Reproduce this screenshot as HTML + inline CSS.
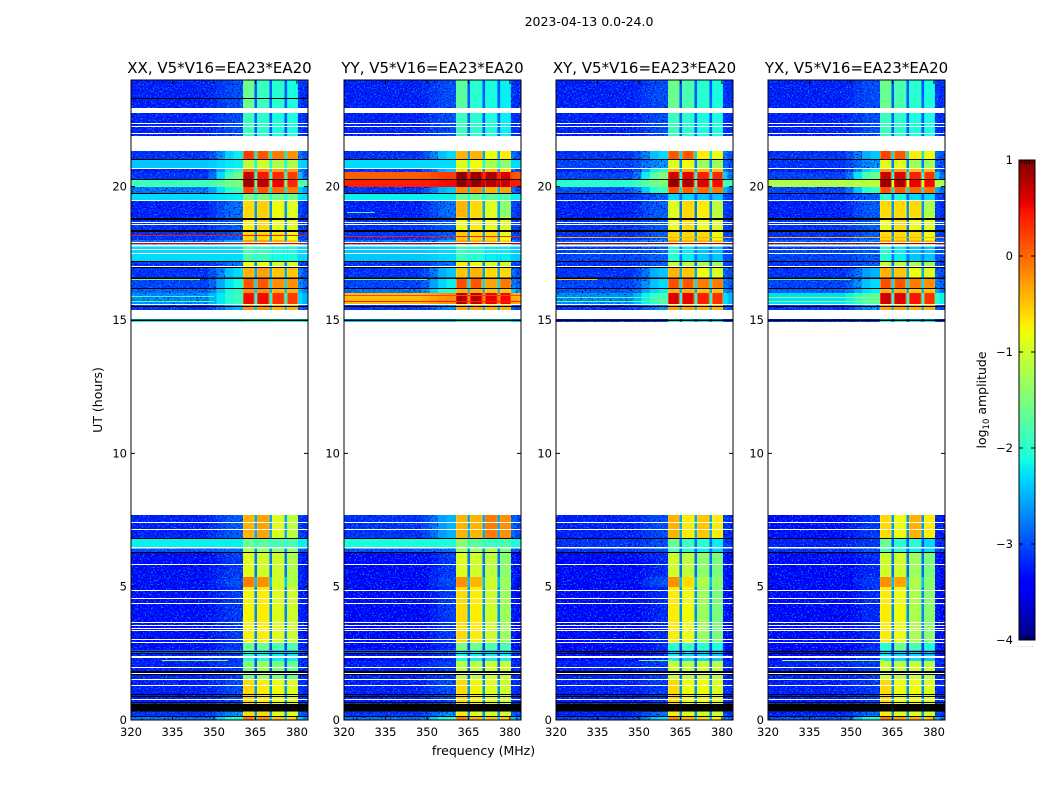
<!DOCTYPE html>
<html>
<head>
<meta charset="utf-8">
<title>2023-04-13 spectrograms</title>
<style>
html,body{margin:0;padding:0;background:#fff;width:1050px;height:800px;overflow:hidden}
svg{display:block}
text{font-family:"DejaVu Sans","Liberation Sans",sans-serif;fill:#000}
.cell{shape-rendering:crispEdges}
</style>
</head>
<body>
<svg id="chart" xmlns="http://www.w3.org/2000/svg" width="1050" height="800" viewBox="0 0 1050 800">
  <defs>
    <filter id="speckle" x="0" y="0" width="1" height="1" color-interpolation-filters="sRGB">
      <feTurbulence type="fractalNoise" baseFrequency="0.62 0.7" numOctaves="1" seed="7" result="n"/>
      <feColorMatrix in="n" type="matrix" values="0 0 0 0 0  0 0 0 0 0.55  0 0 0 0 1  6 0 0 0 -3.3" result="c"/>
      <feColorMatrix in="n" type="matrix" values="0 0 0 0 0  0 0 0 0 0  0 0 0 0 0.7  0 6 0 0 -3.3" result="d"/>
      <feComposite in="c" in2="SourceAlpha" operator="in" result="s"/>
      <feComposite in="d" in2="SourceAlpha" operator="in" result="t"/>
      <feMerge><feMergeNode in="SourceGraphic"/><feMergeNode in="t"/><feMergeNode in="s"/></feMerge>
    </filter>
    <linearGradient id="jet-gradient" x1="0" y1="1" x2="0" y2="0"></linearGradient>
  </defs>
  <text x="589" y="26" text-anchor="middle" font-size="12.5">2023-04-13 0.0-24.0</text>
  <text transform="translate(102,400) rotate(-90)" text-anchor="middle" font-size="12.5">UT (hours)</text>
  <text x="483.5" y="755" text-anchor="middle" font-size="12.5">frequency (MHz)</text>
  <text transform="translate(986,400) rotate(-90)" text-anchor="middle" font-size="12.5">log<tspan font-size="8.5" dy="3">10</tspan><tspan dy="-3"> amplitude</tspan></text>
  <g id="panels"></g>
  <g id="colorbar"></g>
</svg>
<script>
// Scale ranges
const freqTicks = [320, 335, 350, 365, 380];
const utTicks = [0, 5, 10, 15, 20];
const colorTicks = [1, 0, -1, -2, -3, -4];
const panelTitles = ['XX, V5*V16=EA23*EA20', 'YY, V5*V16=EA23*EA20', 'XY, V5*V16=EA23*EA20', 'YX, V5*V16=EA23*EA20'];
const subbands = [[360.5, 364.7], [365.6, 370], [370.9, 375.5], [376.4, 380.4]];
const rampFreqs = [348, 351, 354, 357, 360.5];
const rampShape = [0, 0.2, 0.55, 0.85, 1];

// Time segments [top UT, bottom UT] — everything outside stays flagged (white)
const utSegments = [
[24.00,22.76],[22.76,21.34],[21.34,21.04],[21.04,20.70],[20.70,20.55],[20.55,20.25],[20.25,19.99],[19.99,19.76],[19.76,19.50],
[19.50,18.84],[18.84,18.34],[18.34,18.00],[18.00,17.75],[17.75,17.21],[17.21,16.95],[16.95,16.58],[16.58,16.20],[16.20,16.01],
[16.01,15.56],[15.56,15.38],[15.03,14.93],
[7.69,6.79],[6.79,6.48],[6.48,6.30],[6.30,5.36],[5.36,4.99],[4.99,2.89],[2.89,2.63],[2.63,2.48],[2.48,2.21],[2.21,1.50],[1.50,0.56],
[0.56,0.30],[0.30,0.15],[0.15,0.00]];

// log10 amplitude per segment: [band floor, ramp top, sub-band 1..4]
const levelsXX = [
[-3.1,-3.0,-1.6,-1.9,-2.0,-2.1],[-3.1,-3.0,-1.9,-2.0,-2.1,-2.1],[-3.0,-2.2,0.25,0.1,-0.1,-0.2],[-2.4,-2.2,-1.1,-1.0,-1.2,-1.2],
[-3.1,-2.0,-0.1,-0.2,-0.3,-0.3],[-3.0,-1.6,0.65,0.45,0.35,0.25],[-1.9,-1.5,0.85,0.75,0.55,0.35],[-2.6,-1.9,0.2,0.1,0.0,-0.1],
[-2.3,-2.2,-1.5,-1.5,-1.6,-1.6],[-3.1,-2.8,-0.6,-0.55,-0.8,-0.9],[-3.0,-2.9,-0.7,-0.6,-0.8,-0.9],[-3.0,-2.9,-0.6,-0.6,-0.7,-0.8],
[-2.6,-2.5,-0.3,-0.3,-0.4,-0.5],[-2.3,-2.3,-1.8,-1.9,-2.1,-2.1],[-3.0,-2.8,-0.8,-0.8,-1.0,-1.0],[-3.0,-2.3,-0.4,-0.3,-0.5,-0.5],
[-2.9,-2.1,0.1,0.1,-0.2,-0.2],[-2.7,-2.0,-0.2,-0.2,-0.4,-0.4],[-2.5,-1.9,0.5,0.5,0.3,0.25],[-3.0,-2.5,-0.2,-0.2,-0.4,-0.4],
[-2.2,-2.2,-1.9,-1.9,-2.0,-2.0],
[-3.1,-2.9,-0.4,-0.3,-0.9,-1.1],[-2.2,-2.2,-1.6,-1.7,-1.8,-1.8],[-2.8,-2.8,-1.2,-1.3,-1.4,-1.4],[-3.2,-3.1,-0.9,-1.0,-1.0,-1.2],
[-3.2,-3.0,-0.1,-0.2,-1.0,-1.2],[-3.2,-3.1,-0.75,-0.7,-0.9,-1.0],[-3.2,-3.1,-1.6,-1.6,-1.8,-1.8],[-2.7,-2.7,-2.1,-2.2,-2.3,-2.3],
[-3.1,-3.1,-2.0,-2.1,-2.2,-2.2],[-3.1,-3.1,-1.5,-1.3,-1.5,-1.6],[-3.1,-3.0,-0.6,-0.7,-0.8,-0.9],[-3.0,-3.0,-1.0,-1.0,-1.0,-1.0],
[-3.0,-2.6,-0.6,-0.6,-0.9,-0.9],[-2.6,-2.0,-0.1,-0.2,-0.5,-0.6]];
const levelsYY = [
[-3.1,-3.0,-1.7,-2.0,-2.1,-2.2],[-3.1,-3.0,-1.9,-2.0,-2.1,-2.2],[-3.0,-2.3,-0.4,-0.4,-0.8,-0.7],[-2.3,-2.3,-0.9,-0.8,-1.2,-1.4],
[-3.0,-2.4,-0.6,-0.5,-0.5,-0.6],[0.05,0.25,0.95,0.9,0.8,0.65],[0.4,0.5,0.95,0.95,0.8,0.7],[-3.0,-2.4,-0.2,-0.2,-0.4,-0.3],
[-2.2,-2.2,-1.6,-1.6,-1.7,-1.8],[-3.1,-2.8,-0.4,-0.6,-0.9,-1.4],[-3.0,-2.9,-0.8,-0.7,-0.8,-0.9],[-3.0,-2.9,-0.5,-0.6,-0.6,-0.8],
[-2.6,-2.5,-0.3,-0.4,-0.5,-0.6],[-2.4,-2.3,-1.9,-2.0,-2.2,-2.2],[-3.0,-2.8,-0.7,-0.8,-0.9,-0.9],[-3.0,-2.4,-0.5,-0.4,-0.6,-0.6],
[-2.9,-2.2,0.15,0.1,-0.3,-0.1],[-2.6,-2.0,-0.4,-0.4,-0.5,-0.5],[-0.45,-0.2,0.8,0.75,0.55,0.5],[-3.0,-2.6,-0.3,-0.3,-0.4,-0.4],
[-2.4,-2.4,-2.0,-2.0,-2.0,-2.0],
[-3.0,-2.5,-0.4,-0.4,-0.1,-0.2],[-2.1,-2.1,-1.4,-1.7,-1.9,-1.8],[-2.8,-2.8,-1.3,-1.3,-1.2,-1.5],[-3.3,-3.1,-0.9,-1.0,-1.1,-1.4],
[-3.3,-3.0,-0.2,-0.4,-1.0,-1.3],[-3.3,-3.1,-0.6,-0.7,-1.0,-1.3],[-3.3,-3.2,-1.5,-1.6,-1.8,-1.8],[-2.7,-2.7,-2.2,-2.2,-2.3,-2.3],
[-3.2,-3.2,-2.1,-2.2,-2.2,-2.2],[-3.1,-3.1,-1.1,-1.1,-1.0,-1.0],[-3.1,-3.0,-0.6,-0.75,-0.9,-1.0],[-3.0,-3.0,-1.0,-1.0,-1.0,-1.0],
[-3.0,-2.6,-0.7,-0.9,-1.0,-1.0],[-2.6,-2.0,-0.1,-0.4,-0.5,-0.5]];
const levelsXY = [
[-3.1,-3.0,-1.6,-1.8,-2.0,-2.1],[-3.1,-3.0,-1.9,-2.0,-2.1,-2.1],[-3.0,-2.3,0.1,0.1,-0.7,-0.8],[-2.9,-2.6,-0.9,-0.8,-1.3,-1.3],
[-3.1,-2.0,-0.4,-0.4,-0.5,-0.5],[-2.9,-1.5,0.6,0.55,0.4,0.35],[-2.0,-1.5,0.9,0.8,0.6,0.5],[-2.8,-1.9,0.15,0.05,0.0,-0.05],
[-3.0,-2.9,-2.3,-2.3,-2.4,-2.4],[-3.1,-2.9,-0.9,-0.6,-0.7,-1.1],[-3.0,-2.9,-0.8,-0.6,-0.8,-0.9],[-3.0,-2.9,-0.6,-0.6,-0.6,-0.8],
[-2.7,-2.6,-0.3,-0.4,-0.4,-0.5],[-2.9,-2.9,-2.0,-2.2,-2.4,-2.4],[-3.0,-2.9,-1.0,-1.1,-1.2,-1.3],[-3.0,-2.4,-0.4,-0.5,-0.8,-0.9],
[-2.9,-2.3,0.15,0.1,-0.1,-0.1],[-2.8,-2.2,-0.4,-0.4,-0.5,-0.5],[-2.5,-1.8,0.6,0.55,0.4,0.3],[-3.0,-2.6,-0.3,-0.3,-0.4,-0.4],
[-3.0,-3.0,-2.0,-2.1,-2.2,-2.2],
[-3.1,-3.0,-0.4,-0.7,-0.5,-0.7],[-3.0,-3.0,-1.6,-1.9,-2.0,-2.2],[-3.0,-3.0,-1.8,-2.0,-2.2,-2.3],[-3.3,-3.2,-1.0,-1.1,-1.4,-1.5],
[-3.3,-3.0,-0.2,-0.6,-1.2,-1.4],[-3.3,-3.2,-0.7,-0.8,-1.3,-1.5],[-3.3,-3.2,-2.0,-1.9,-2.0,-2.1],[-3.2,-3.2,-2.3,-2.3,-2.4,-2.4],
[-3.2,-3.2,-2.2,-2.3,-2.3,-2.4],[-3.1,-3.1,-1.0,-1.1,-1.0,-1.1],[-3.1,-3.1,-0.6,-0.8,-0.8,-0.9],[-3.0,-3.0,-1.0,-1.0,-1.0,-1.0],
[-3.1,-2.8,-0.7,-0.9,-1.0,-1.0],[-2.9,-2.3,-0.2,-0.4,-0.6,-0.7]];
const levelsYX = [
[-3.1,-3.0,-1.6,-1.8,-2.0,-2.1],[-3.1,-3.0,-1.9,-2.0,-2.1,-2.1],[-3.0,-2.4,0.2,0.1,-0.7,-0.8],[-3.0,-2.6,-0.9,-0.9,-1.3,-1.3],
[-3.1,-2.2,-0.3,-0.3,-0.5,-0.5],[-2.9,-1.6,0.65,0.6,0.4,0.3],[-1.2,-1.1,0.9,0.8,0.55,0.5],[-2.9,-1.9,0.15,0.1,0.0,-0.05],
[-3.0,-2.9,-2.0,-2.1,-2.3,-2.3],[-3.1,-2.9,-0.6,-0.6,-0.6,-1.2],[-3.0,-2.9,-0.8,-0.6,-0.8,-0.9],[-3.0,-2.9,-0.6,-0.6,-0.6,-0.8],
[-2.7,-2.6,-0.3,-0.4,-0.4,-0.5],[-2.9,-2.9,-2.0,-2.2,-2.4,-2.4],[-3.0,-2.9,-1.0,-1.1,-1.2,-1.3],[-3.0,-2.5,-0.4,-0.5,-0.8,-0.9],
[-2.9,-2.3,0.15,0.1,-0.1,-0.2],[-2.7,-2.2,-0.4,-0.4,-0.5,-0.5],[-2.3,-1.7,0.65,0.6,0.45,0.3],[-3.0,-2.6,-0.3,-0.3,-0.4,-0.4],
[-3.0,-3.0,-2.0,-2.1,-2.2,-2.2],
[-3.2,-3.1,-0.6,-0.8,-0.4,-0.7],[-3.1,-3.1,-1.6,-2.0,-2.0,-2.3],[-3.0,-3.0,-1.8,-2.0,-2.2,-2.3],[-3.3,-3.2,-1.0,-1.0,-1.3,-1.5],
[-3.3,-3.1,-0.2,-0.3,-1.2,-1.4],[-3.3,-3.2,-0.7,-0.8,-1.2,-1.4],[-3.3,-3.2,-2.0,-1.6,-1.8,-2.1],[-3.2,-3.2,-2.3,-2.3,-2.4,-2.4],
[-3.2,-3.2,-2.2,-2.3,-2.3,-2.4],[-3.1,-3.1,-1.0,-1.1,-1.0,-1.1],[-3.1,-3.1,-0.6,-0.8,-0.8,-0.9],[-3.0,-3.0,-1.0,-1.0,-1.0,-1.0],
[-3.1,-2.8,-0.7,-0.9,-0.9,-1.0],[-2.8,-2.0,-0.1,-0.3,-0.4,-0.5]];
const panelLevels = [levelsXX, levelsYY, levelsXY, levelsYX];

// Narrow single-integration features: [UT, log10 amplitude, start MHz, end MHz]
const linesXX = [[18.17,0.45,320,384],[17.90,-0.5,320,384],[17.87,0.6,320,384],[16.53,-1.5,320,345],[15.90,-1.9,320,350],[15.72,-1.8,320,350],[2.24,-1.4,331,355]];
const linesYY = [[18.15,0.4,320,384],[17.87,0.8,320,384],[15.95,0.2,320,384],[15.72,0.4,320,384],[16.53,-1.7,320,350],[19.05,-1.9,321,331]];
const linesXY = [[18.13,-0.4,320,384],[17.87,0.8,320,384],[16.52,-0.5,320,335],[15.85,-1.8,320,360],[15.70,-1.6,320,360],[2.24,-1.6,350,362]];
const linesYX = [[18.13,-0.4,320,384],[17.87,0.8,320,384],[16.52,-1.8,320,350],[15.85,-1.4,320,360],[15.70,-1.4,320,360],[2.24,-1.2,325,362]];
const panelLines = [linesXX, linesYY, linesXY, linesYX];

// Flagged integrations
const whiteBands = [[22.95,22.76],[21.90,21.34],[17.83,17.75],[6.48,6.43]];
const whiteLines = [22.38,22.28,22.00,20.70,19.50,18.69,18.60,17.93,17.65,17.50,17.01,15.61,7.41,7.15,5.86,4.86,4.56,4.38,3.66,3.56,3.46,3.36,3.03,2.93,2.41,2.35,1.98,1.76,1.54,1.30,0.78];
const blackLines = [21.02,20.27,19.75,18.80,18.35,17.23,16.97,16.57,16.21,15.54,15.00,6.81,6.29,2.60,2.52,1.85,1.80,1.71,0.98,0.90,0.69,0.61,0.15];
const blackBands = [[0.56,0.31],[18.83,18.77],[18.38,18.33],[16.59,16.54],[15.02,14.97]];
const panelBlackExtra = [[23.34],[],[],[]];

const floorBias = -0.15;
const speckleCeiling = -2.6;
const panelLefts = [131, 344, 556, 768];
const panelWidth = 177, panelTop = 80, panelBottom = 720;
const NS = 'http://www.w3.org/2000/svg';
const yUT = ut => panelBottom - ut * (panelBottom - panelTop) / 24;
const xF = (left, f) => left + (f - 320) * panelWidth / 64;
const cbY = v => 640 - (v + 4) * 480 / 5;

function seg(pts, t) {
  for (let i = 1; i < pts.length; i++) {
    if (t <= pts[i][0]) {
      const a = pts[i - 1], b = pts[i];
      return a[1] + (b[1] - a[1]) * (t - a[0]) / (b[0] - a[0] || 1);
    }
  }
  return pts[pts.length - 1][1];
}
const jetR = [[0,0],[.35,0],[.66,1],[.89,1],[1,.5]];
const jetG = [[0,0],[.125,0],[.375,1],[.64,1],[.91,0],[1,0]];
const jetB = [[0,.5],[.11,1],[.34,1],[.65,0],[1,0]];
function jet(v) {
  const t = Math.max(0, Math.min(1, (v + 4) / 5));
  const c = p => Math.round(255 * seg(p, t));
  return 'rgb(' + c(jetR) + ',' + c(jetG) + ',' + c(jetB) + ')';
}
function mk(tag, parent, attrs) {
  const el = document.createElementNS(NS, tag);
  for (const k in attrs) el.setAttribute(k, attrs[k]);
  parent.appendChild(el);
  return el;
}
function hband(parent, left, f0, f1, top, bottom, fill) {
  const el = mk('rect', parent, {
    x: xF(left, f0), y: yUT(top), width: xF(left, f1) - xF(left, f0),
    height: Math.max(yUT(bottom) - yUT(top), 0.5), fill: fill, class: 'cell'
  });
  return el;
}
function hline(parent, left, ut, px, fill) {
  const el = mk('rect', parent, { x: left, y: Math.round(yUT(ut)), width: panelWidth, height: px, fill: fill, class: 'cell' });
  return el;
}

const panelsRoot = document.getElementById('panels');
panelTitles.forEach((title, p) => {
  const left = panelLefts[p];
  const levels = panelLevels[p];
  const g = mk('g', panelsRoot, {});
  
  

  const heat = mk('g', g, { filter: 'url(#speckle)' });
  
  
  const hot = mk('g', g, {});
  
  

  utSegments.forEach((s, i) => {
    const L = levels[i];
    const base = L[0] <= -2.5 ? L[0] + floorBias : L[0];
    const ramp = L[1];
    let f0 = 320;
    rampFreqs.forEach((f1, k) => {
      const v = base + (ramp - base) * rampShape[k];
      const cell = hband(v <= speckleCeiling ? heat : hot, left, f0, f1, s[0], s[1], jet(v));
      
      
      f0 = f1;
    });
    subbands.forEach((b, k) => {
      const v = L[2 + k];
      const edge = v > 0 ? v - 0.35 : v - 0.1;
      const ew = 0.4;
      const stops = [[b[0], b[0] + ew, edge], [b[0] + ew, b[1] - ew, v], [b[1] - ew, b[1], edge]];
      stops.forEach(st => {
        const cell = hband(hot, left, st[0], st[1], s[0], s[1], jet(st[2]));
        
        
      });
      const next = k < 3 ? subbands[k + 1][0] : null;
      if (next !== null) {
        const gapV = Math.max(base + 0.3, -2.85 + 0.5 * (L[2] + 1));
        const gap = hband(hot, left, b[1], next, s[0], s[1], jet(Math.min(gapV, v)));
        
        
      }
    });
    const v1 = base + (ramp - base) * 0.45;
    const tail1 = hband(v1 <= speckleCeiling ? heat : hot, left, 380.4, 382, s[0], s[1], jet(v1));
    
    
    const v2 = base + (ramp - base) * 0.2;
    const tail2 = hband(v2 <= speckleCeiling ? heat : hot, left, 382, 384, s[0], s[1], jet(v2));
    
    
  });

  panelLines[p].forEach(l => {
    const el = mk('rect', g, {
      x: xF(left, l[2]), y: Math.round(yUT(l[0])), width: xF(left, l[3]) - xF(left, l[2]),
      height: 1, fill: jet(l[1]), class: 'cell'
    });
    
    
  });
  whiteBands.forEach(b => {
    const el = hband(g, left, 320, 384, b[0], b[1], '#fff');
    
    
  });
  whiteLines.forEach(ut => {
    const el = hline(g, left, ut, 1, '#fff');
    
    
  });
  blackBands.forEach(b => {
    const el = hband(g, left, 320, 384, b[0], b[1], '#000');
    
    
  });
  blackLines.concat(panelBlackExtra[p]).forEach(ut => {
    const el = hline(g, left, ut, 1, '#000');
    
    
  });

  const frame = mk('rect', g, { x: left, y: panelTop, width: panelWidth, height: panelBottom - panelTop, fill: 'none', stroke: '#000', 'stroke-width': 1 });
  
  

  const t = mk('text', g, { x: left + panelWidth / 2, y: 73, 'text-anchor': 'middle', 'font-size': 15 });
  t.textContent = title;
  
  

  freqTicks.forEach(f => {
    const x = xF(left, f);
    const tk = mk('path', g, { d: 'M' + x + ' 720v-4M' + x + ' 80v4', stroke: '#000', 'stroke-width': 1, fill: 'none' });
    
    
    const lb = mk('text', g, { x: x, y: 736, 'text-anchor': 'middle', 'font-size': 11.5 });
    lb.textContent = f;
    
    
  });
  utTicks.forEach(u => {
    const y = yUT(u);
    const tk = mk('path', g, { d: 'M' + left + ' ' + y + 'h4M' + (left + panelWidth) + ' ' + y + 'h-4', stroke: '#000', 'stroke-width': 1, fill: 'none' });
    
    
    const lb = mk('text', g, { x: left - 4, y: y + 4, 'text-anchor': 'end', 'font-size': 11.5 });
    lb.textContent = u;
    
    
  });
});

// Colorbar
const grad = document.getElementById('jet-gradient');
[0, .11, .125, .34, .35, .375, .64, .65, .66, .89, .91, 1].forEach(t => {
  mk('stop', grad, { offset: t, 'stop-color': jet(t * 5 - 4) });
});
const cb = document.getElementById('colorbar');
const cbFill = mk('rect', cb, { x: 1019, y: cbY(1), width: 16, height: cbY(-4) - cbY(1), fill: 'url(#jet-gradient)', stroke: '#000', 'stroke-width': 1 });


colorTicks.forEach(v => {
  const y = cbY(v);
  const tk = mk('path', cb, { d: 'M1019 ' + y + 'h4M1035 ' + y + 'h-4', stroke: '#000', 'stroke-width': 1, fill: 'none' });
  
  
  const lb = mk('text', cb, { x: 1013, y: y + 4, 'text-anchor': 'end', 'font-size': 11.5 });
  lb.textContent = (v < 0 ? '\u2212' : '') + Math.abs(v);
  
  
});
const cbTop = mk('path', cb, { d: 'M1022 160v4M1024.5 160v4M1027 160v4M1029.5 160v4M1032 160v4M1022 640v-4M1024.5 640v-4M1027 640v-4M1029.5 640v-4M1032 640v-4', stroke: '#000', 'stroke-width': 0.8, fill: 'none' });


const cbDots = mk('text', cb, { x: 1026, y: 647, 'text-anchor': 'middle', 'font-size': 6, style: 'fill:#888;letter-spacing:1px' });
cbDots.textContent = '......';


</script>
</body>
</html>
